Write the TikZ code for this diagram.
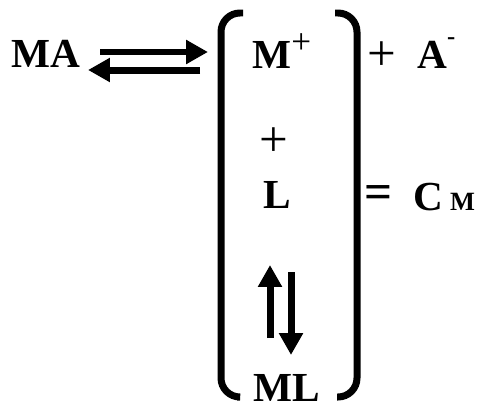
\documentclass[tikz,border=0pt]{standalone}
\usepackage{fontspec}
\setmainfont{Liberation Serif}
\usepackage{tikz}
\usetikzlibrary{arrows.meta,positioning}

\begin{document}
\begin{tikzpicture}[x=0.02cm,y=-0.02cm,
  chem/.style={inner sep=0pt,font=\fontsize{23.5}{26}\selectfont\bfseries},
  sgn/.style={inner sep=0pt,font=\fontsize{29}{30}\selectfont},
  brk/.style={line width=0.14cm,rounded corners=0.38cm},
  arr/.style={-{Triangle[length=0.44cm,width=0.46cm]},line width=0.14cm}
]
  \useasboundingbox (0,0) rectangle (480,409);
  \node[chem,anchor=base](ma) at (46,67) {MA};
  \node[chem,anchor=base west](mp) at (252,68) {M{\fontsize{20}{20}\selectfont\mdseries\raisebox{0.4em}{+}}};
  \node[sgn,anchor=base](p1) at (382,70) {+};
  \node[chem,anchor=base west](an) at (417,68) {A{\fontsize{14}{14}\selectfont\raisebox{0.95em}{-}}};
  \node[sgn,anchor=base](p2) at (274,156) {+};
  \node[chem,anchor=base west](l) at (263,208) {L};
  \node[chem,anchor=base,font=\fontsize{28}{30}\selectfont\bfseries](eq) at (379,208) {=};
  \node[chem,anchor=base west](cm) at (413,210) {C\,{\fontsize{15}{15}\selectfont M}};
  \node[chem,anchor=base](ml) at (287,401) {ML};
  % equilibrium arrows
  \coordinate (a1) at (100,52); \coordinate (b1) at (208,52);
  \coordinate (a2) at (200,70); \coordinate (b2) at (88,70);
  \coordinate (a3) at (270,338); \coordinate (b3) at (270,265);
  \coordinate (a4) at (291,272); \coordinate (b4) at (291,355);
  \draw[arr](a1)--(b1); \draw[arr](a2)--(b2);
  \draw[arr](a3)--(b3); \draw[arr](a4)--(b4);
  % brackets
  \draw[brk](243,13)--(221,13)--(221,397)--(237,397);
  \draw[brk](335,13)--(357,13)--(357,397)--(337,397);
\end{tikzpicture}
\end{document}
